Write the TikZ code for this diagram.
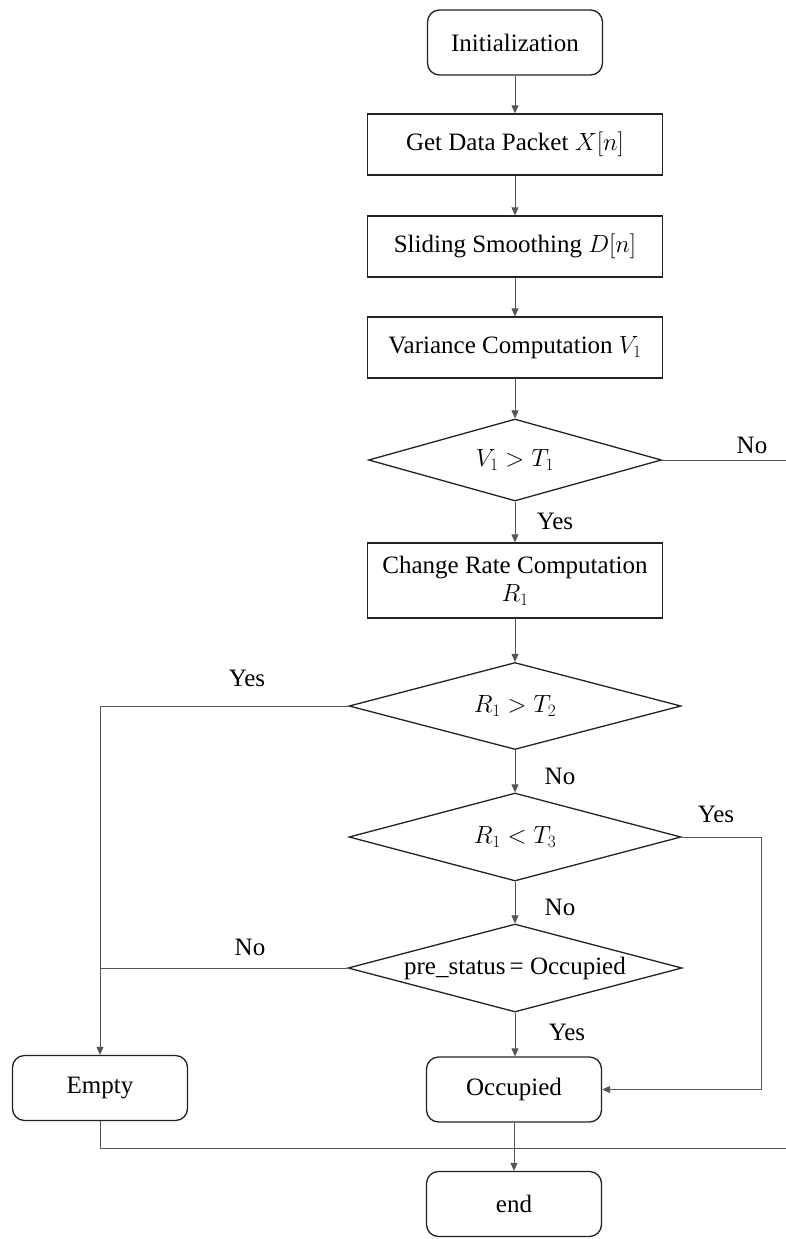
\documentclass[tikz,border=0pt]{standalone}
\usepackage{fontspec}
\setmainfont{Liberation Serif}
\usetikzlibrary{shapes.geometric,arrows.meta}
\definecolor{shapecol}{HTML}{222222}
\definecolor{conncol}{HTML}{555555}
\begin{document}
\begin{tikzpicture}[x=1pt,y=-1pt,
  font=\fontsize{25}{30}\selectfont,
  proc/.style={draw=shapecol,line width=1.3pt,rectangle,minimum width=295pt,minimum height=61pt,inner sep=0pt,align=center},
  term/.style={draw=shapecol,line width=1.3pt,rectangle,rounded corners=12pt,minimum width=175pt,minimum height=65pt,inner sep=0pt},
  dec/.style={draw=shapecol,line width=1.3pt,diamond,inner sep=0pt,minimum width=332pt,minimum height=88pt},
  link/.style={draw=conncol,line width=0.9pt},
  arr/.style={link,-{Triangle[length=8pt,width=7pt]}},
  lbl/.style={inner sep=0pt}
]
\useasboundingbox (0,0) rectangle (786,1239);
\fill[white] (0,0) rectangle (786,1239);

\node[term] (init) at (515,42.5) {Initialization};
\node[proc] (get) at (515,144.5) {Get Data Packet $X[n]$};
\node[proc] (slide) at (515,246.5) {Sliding Smoothing $D[n]$};
\node[proc] (var) at (515,347.5) {Variance Computation $V_1$};
\node[dec, minimum width=293pt, minimum height=82pt] (d1) at (515,460) {\makebox[0pt]{$V_1>T_1$}};
\node[proc, minimum height=75pt] (rate) at (515,580.5) {Change Rate Computation\\[-2pt]$R_1$};
\node[dec, minimum height=87pt] (d2) at (515,706) {\makebox[0pt]{$R_1>T_2$}};
\node[dec] (d3) at (515,837) {\makebox[0pt]{$R_1<T_3$}};
\node[dec, minimum width=334pt] (d4) at (515,968) {\makebox[0pt]{pre\_status\,= Occupied}};
\node[term] (empty) at (100,1088) {Empty};
\node[term] (occ) at (514,1089.5) {Occupied};
\node[term] (end) at (514,1204) {end};

\coordinate (redge) at (786,0);
\coordinate (rcol) at (761,0);
\coordinate (bline) at (0,1148);

\draw[arr] (init) -- (get);
\draw[arr] (get) -- (slide);
\draw[arr] (slide) -- (var);
\draw[arr] (var) -- (d1);
\draw[link] (d1.east) -- (d1.east -| redge);
\draw[arr] (d1) -- (rate);
\draw[arr] (rate) -- (d2);
\draw[arr] (d2.west) -| (empty.north);
\draw[arr] (d2) -- (d3);
\draw[arr] (d3.east) -- (d3.east -| rcol) |- (occ.east);
\draw[arr] (d3) -- (d4);
\draw[link] (d4.west) -- (d4.west -| empty.north);
\draw[arr] (d4.south) -- (d4.south |- occ.north);
\draw[link] (empty.south) -- (empty.south |- bline) -- (bline -| redge);
\draw[arr] (occ) -- (end);

\node[lbl] at (752,445) {No};
\node[lbl] at (555,521) {Yes};
\node[lbl] at (247,678) {Yes};
\node[lbl] at (560,776) {No};
\node[lbl] at (716,814) {Yes};
\node[lbl] at (560,907) {No};
\node[lbl] at (250,947) {No};
\node[lbl] at (567,1032) {Yes};
\end{tikzpicture}
\end{document}
